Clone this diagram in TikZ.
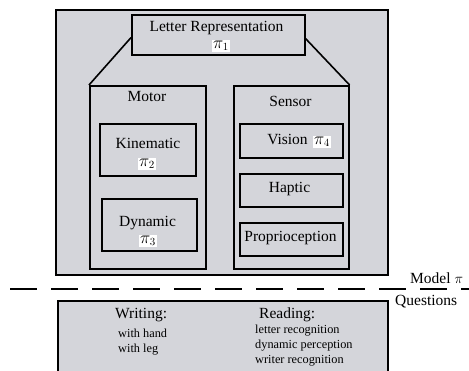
\documentclass[tikz,border=0pt]{standalone}
\usepackage{fontspec}
\setmainfont{Liberation Serif}
\definecolor{panel}{RGB}{212,213,218}
\begin{document}
\begin{tikzpicture}[x=1pt,y=-1pt,
  box/.style={draw=black, line width=1.6pt, fill=panel, inner sep=0pt, anchor=north west},
  lbl/.style={font=\fontsize{15.5}{16}\selectfont, inner sep=0pt, anchor=base},
  small/.style={font=\fontsize{12.3}{13}\selectfont, inner sep=0pt, anchor=base west},
  pibox/.style={fill=white, inner xsep=1.5pt, inner ysep=1pt, anchor=base, font=\fontsize{16}{17}\selectfont}]
\useasboundingbox (0,0) rectangle (469,370);
\begin{scope}
\clip (0,0) rectangle (469,370);
% outer panel
\node[box, minimum width=332, minimum height=265] (model) at (55,9) {};
% letter representation
\node[box, minimum width=173, minimum height=40] (letter) at (131,14) {};
\node[lbl] (lettert) at (216.5,31) {Letter Representation};
\node[pibox] (pi1) at (221,48) {$\pi_1$};
% motor
\node[box, minimum width=116, minimum height=183] (motor) at (89,85) {};
\node[lbl] (motort) at (147,101) {Motor};
\node[box, minimum width=96, minimum height=52] (kin) at (99,123) {};
\node[lbl] (kint) at (148,148) {Kinematic};
\node[pibox] (pi2) at (147,166) {$\pi_2$};
\node[box, minimum width=95, minimum height=52] (dyn) at (101,198) {};
\node[lbl] (dynt) at (147.5,226) {Dynamic};
\node[pibox] (pi3) at (148,243) {$\pi_3$};
% sensor
\node[box, minimum width=115, minimum height=183] (sensor) at (233,85) {};
\node[lbl] (sensort) at (290.5,106) {Sensor};
\node[box, minimum width=103, minimum height=34] (vision) at (239,123) {};
\node[lbl] (visiont) at (287.5,144) {Vision};
\node[pibox] (pi4) at (322,144) {$\pi_4$};
\node[box, minimum width=103, minimum height=33] (haptic) at (239,173) {};
\node[lbl] (haptict) at (289.5,192) {Haptic};
\node[box, minimum width=103, minimum height=33] (prop) at (239,222) {};
\node[lbl] (propt) at (290.5,241) {Proprioception};
% connectors
\draw[line width=1.6pt] (letter.south west) ++(0,-18) coordinate (lw) -- (motor.north west);
\draw[line width=1.6pt] (letter.south east) ++(0,-17) coordinate (le) -- (sensor.north east);
% separator
\coordinate (dl) at (10,289);
\coordinate (dr) at (469,289);
\draw[line width=2pt, dash pattern=on 27pt off 14pt] (dl) -- (dr);
\node[lbl, anchor=base west] (modelpi) at (410,283) {Model $\pi$};
\node[lbl, anchor=base west] (quest) at (395,305) {Questions};
% questions box
\node[box, minimum width=330, minimum height=100] (qbox) at (57,300) {};
\node[lbl, anchor=base west] (writing) at (115,318) {Writing:};
\node[lbl, anchor=base west] (reading) at (259,318) {Reading:};
\node[small] (hand) at (118,337) {with hand};
\node[small] (leg) at (118,352) {with leg};
\node[small] (lrec) at (255,333) {letter recognition};
\node[small] (dper) at (255,348) {dynamic perception};
\node[small] (wrec) at (255,363) {writer recognition};
\end{scope}
\end{tikzpicture}
\end{document}
